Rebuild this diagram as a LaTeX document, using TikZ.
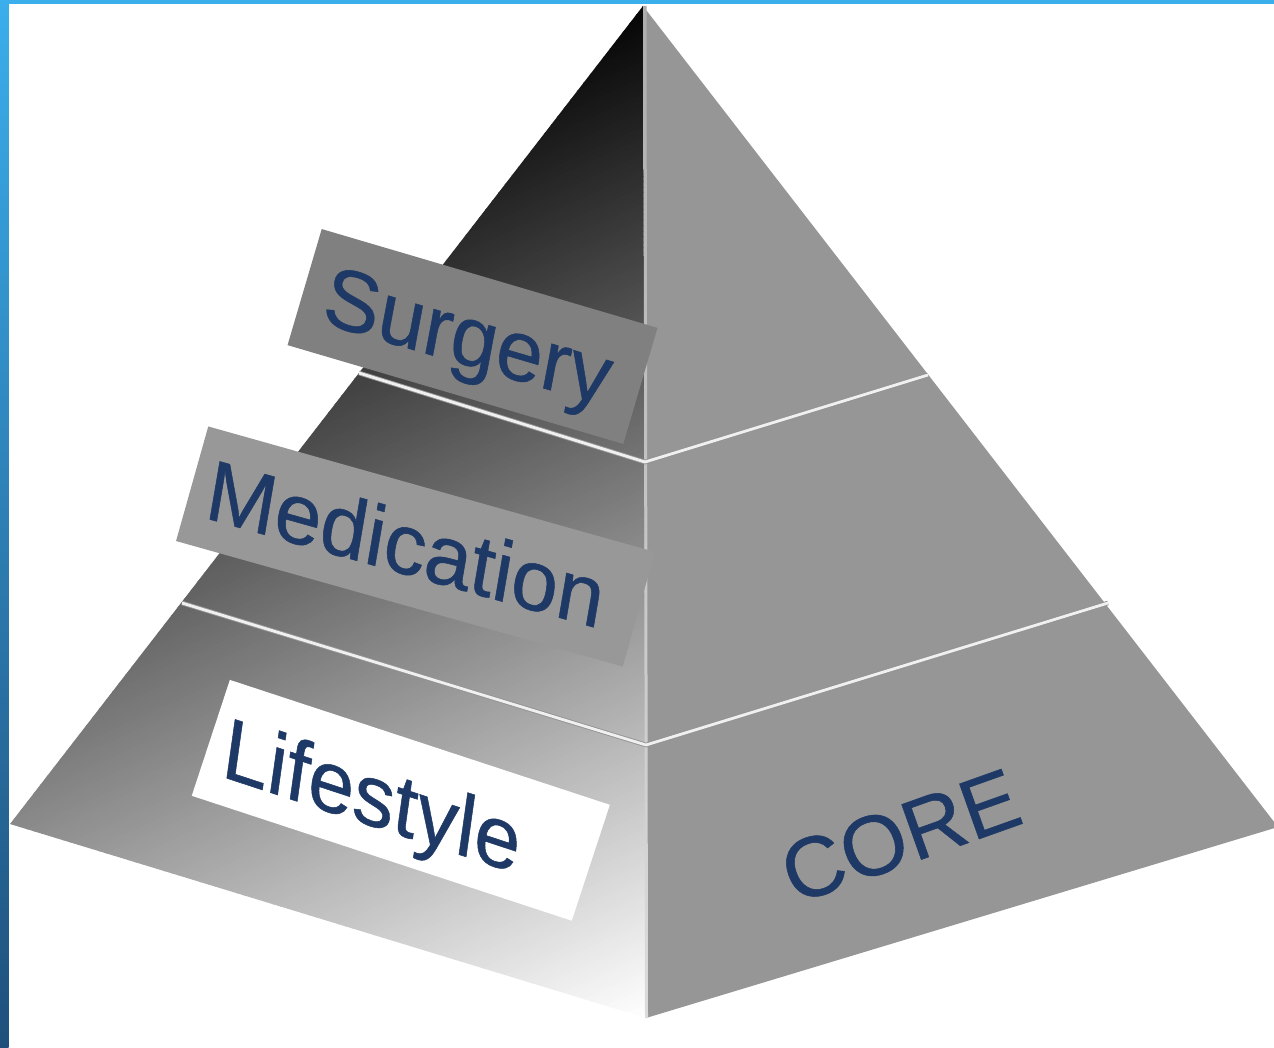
\documentclass[tikz,border=0pt]{standalone}
\usepackage{fontspec}
\setmainfont{Liberation Sans}
\newfontfamily\lblfont[FakeBold=0.6]{Liberation Sans}
\definecolor{txtblue}{RGB}{30,57,101}
\definecolor{facegray}{RGB}{150,150,150}
\definecolor{surgbox}{RGB}{128,128,128}
\definecolor{medbox}{RGB}{152,152,152}
\definecolor{frametop}{RGB}{59,174,236}
\definecolor{framebot}{RGB}{31,80,124}
\begin{document}
\begin{tikzpicture}[x=1pt,y=-1pt,
  lbl/.style={text=txtblue,font=\lblfont\fontsize{85}{100}\selectfont,inner sep=0pt},
  labelbox/.style={inner sep=0pt,draw=none},
  layerline/.style={line width=4.6pt,draw=black!42},
  layerlinecore/.style={line width=2.8pt,draw=white!94!black}]
\useasboundingbox (0,0) rectangle (1274,1048);
\fill[white] (0,0) rectangle (1274,1048);
\coordinate (A) at (643,6);
\coordinate (L) at (10,824);
\coordinate (B) at (646,1018);
\coordinate (R) at (1278,827);
% right face
\fill[facegray] (A) -- (B) -- (R) -- cycle;
% left face with linear gradient
\begin{scope}
  \clip (A) -- (L) -- (B) -- cycle;
  \begin{scope}[shift={(643,6)},rotate=24.4]
    \foreach \i in {-4,...,190}{
      \pgfmathsetmacro{\pct}{max(0,min(100,100-(5*\i+2.5+20)/9.445))}
      \fill[black!\pct!white] (-1500,5*\i) rectangle (1500,5*\i+5.6);
    }
  \end{scope}
\end{scope}
% centre edge highlight
\shade[top color=black!32, bottom color=black!14] (643.5,6) -- (646.5,6) -- (648,1018) -- (645,1018) -- cycle;
% layer lines
\coordinate (u1) at (359,373);
\coordinate (c1) at (645,462);
\coordinate (r1) at (928,375);
\coordinate (u2) at (182,603);
\coordinate (c2) at (646,745);
\coordinate (r2) at (1108,603);
\draw[layerline] (u1) -- (c1) -- (r1);
\draw[layerline] (u2) -- (c2) -- (r2);
\draw[layerlinecore] (u1) -- (c1) -- (r1);
\draw[layerlinecore] (u2) -- (c2) -- (r2);
% label boxes
\node[labelbox,fill=surgbox,rotate=-16.4,minimum width=350pt,minimum height=121pt] (surgb) at (472.5,336.5) {};
\node[lbl,rotate=-16.4,xslant=-0.1,anchor=base] (surgt) at (463,364.5) {Surgery};
\node[labelbox,fill=medbox,rotate=-15.7,minimum width=464pt,minimum height=119pt] (medb) at (415.5,546.5) {};
\node[lbl,rotate=-15.7,xslant=-0.105,anchor=base west] (medt) at (203,517.5) {Medication};
\node[labelbox,fill=white,rotate=-18.2,minimum width=400pt,minimum height=122pt] (lifeb) at (400.8,800.3) {};
\node[lbl,rotate=-18.2,xslant=-0.18,anchor=base west] (lifet) at (220,776) {Lifestyle};
\node[lbl,rotate=19.6,anchor=base] (core) at (910.3,863.5) {CORE};
% frame
\shade[top color=frametop,bottom color=framebot] (0,0) rectangle (8.5,1048);
\fill[frametop] (0,0) rectangle (1274,3.8);
\end{tikzpicture}
\end{document}
